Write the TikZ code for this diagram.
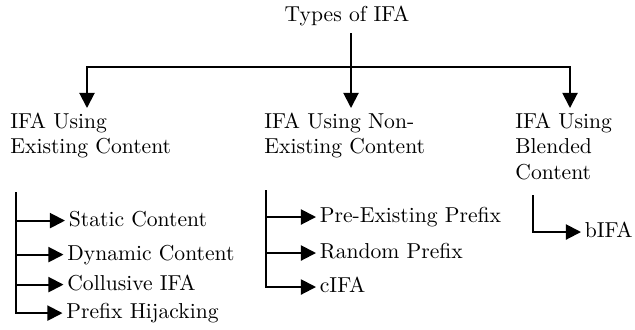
\documentclass[tikz,border=0pt]{standalone}
\usetikzlibrary{arrows.meta}
\begin{document}
\begin{tikzpicture}[x=0.463pt,y=-0.463pt,
  line/.style={line width=0.9pt},
  arr/.style={line width=0.9pt,-{Triangle[length=7pt,width=7pt]}},
  parent/.style={anchor=north west,align=left,inner xsep=0pt,inner ysep=1.9pt},
  item/.style={anchor=base west,inner xsep=1.6pt,inner ysep=0pt,text height=7pt,text depth=2pt}]
\useasboundingbox (0,0) rectangle (635,329);
% title and top level
\node[anchor=base] (title) at (347,21) {Types of IFA};
\node[parent] (left) at (10,108) {IFA Using\\Existing Content};
\node[parent] (mid) at (264,108) {IFA Using Non-\\Existing Content};
\node[parent] (right) at (515,108) {IFA Using\\Blended\\Content};
\coordinate (hub) at (351,67);
\coordinate (lx) at (87,67);
\coordinate (rx) at (570,67);
\draw[arr] (title.south -| hub) -- (mid.north -| hub);
\draw[arr] (hub) -- (lx) -- (lx |- left.north);
\draw[arr] (hub) -- (rx) -- (rx |- right.north);
% left list
\coordinate (lb) at (16,192);
\node[item] (l1) at (65,226) {Static Content};
\node[item] (l2) at (63.5,260) {Dynamic Content};
\node[item] (l3) at (63.5,290) {Collusive IFA};
\node[item] (l4) at (62.5,318.5) {Prefix Hijacking};
\foreach \n in {l1,l2,l3} \draw[arr] (lb |- \n.west) -- (\n.west);
\draw[arr] (lb) |- (l4.west);
% middle list
\coordinate (mb) at (266,190);
\node[item] (m1) at (316,222.4) {Pre-Existing Prefix};
\node[item] (m2) at (316,258.4) {Random Prefix};
\node[item] (m3) at (316,292.4) {cIFA};
\foreach \n in {m1,m2} \draw[arr] (mb |- \n.west) -- (\n.west);
\draw[arr] (mb) |- (m3.west);
% right list
\coordinate (rb) at (533,195);
\node[item] (r1) at (581,237.4) {bIFA};
\draw[arr] (rb) |- (r1.west);
\end{tikzpicture}
\end{document}
